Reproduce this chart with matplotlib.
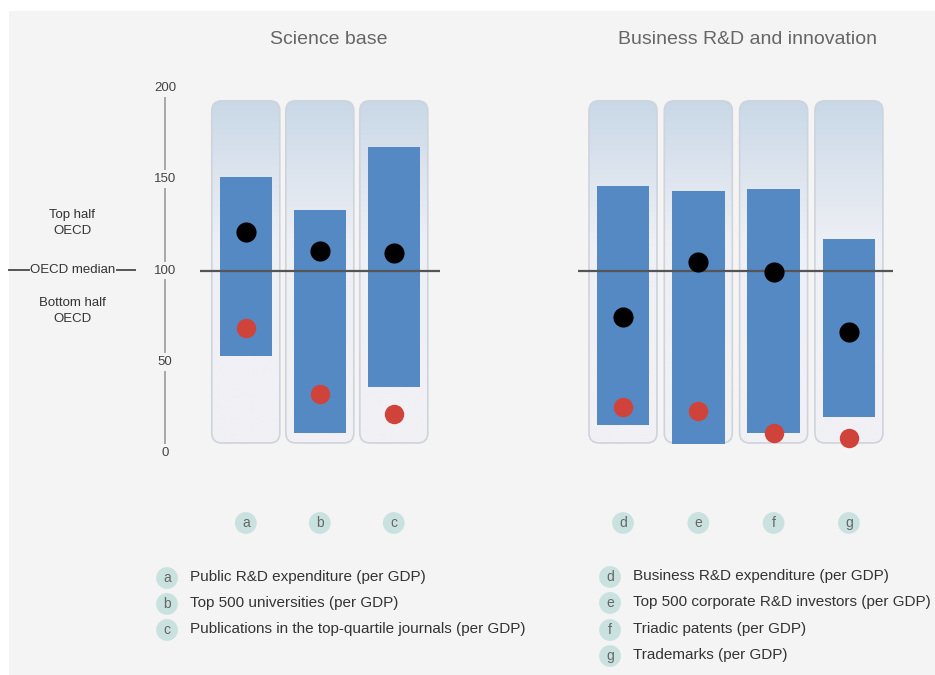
import matplotlib
matplotlib.use("Agg")
import matplotlib.pyplot as plt
import numpy as np
from matplotlib.patches import FancyBboxPatch, Rectangle
from matplotlib.colors import LinearSegmentedColormap
import matplotlib.transforms as mtransforms

plt.rcParams['font.family'] = ['Liberation Sans', 'DejaVu Sans']

# ---- data -------------------------------------------------------------
science_keys = ['a', 'b', 'c']
science_labels = ['Public R&D expenditure (per GDP)',
                  'Top 500 universities (per GDP)',
                  'Publications in the top-quartile journals (per GDP)']
science_high = [151.5, 133.0, 167.5]
science_low = [53.0, 11.0, 36.0]
science_country = [121.0, 110.5, 109.5]
science_other = [68.5, 32.5, 21.5]

business_keys = ['d', 'e', 'f', 'g']
business_labels = ['Business R&D expenditure (per GDP)',
                   'Top 500 corporate R&D investors (per GDP)',
                   'Triadic patents (per GDP)',
                   'Trademarks (per GDP)']
business_high = [146.5, 143.5, 144.5, 117.5]
business_low = [15.5, 5.0, 11.0, 19.5]
business_country = [74.5, 104.5, 99.0, 66.5]
business_other = [25.0, 23.0, 11.0, 8.0]

scale_ticks = [0, 50, 100, 150, 200]
median_value = 100
frame_low, frame_high = 5.5, 193.0

# ---- layout -------------------------------------------------------------
W, H = 935, 675
DPI = 100
fig = plt.figure(figsize=(W / DPI, H / DPI), dpi=DPI, facecolor='white')

# grey panel background
fig.patches.append(Rectangle((9 / W, 0), 1 - 9 / W, 1 - 11 / H,
                             transform=fig.transFigure, facecolor='#f4f4f4',
                             edgecolor='none', zorder=-5))

YMIN, YMAX = -10, 205
PX_PER_UNIT = 1.825
Y0_PX = 453.0


def ypx(v):
    return Y0_PX - PX_PER_UNIT * v


def make_axes(x0_px, x1_px):
    top = ypx(YMAX)
    bot = ypx(YMIN)
    ax = fig.add_axes([x0_px / W, 1 - bot / H, (x1_px - x0_px) / W, (bot - top) / H])
    ax.set_ylim(YMIN, YMAX)
    ax.axis('off')
    ax.patch.set_alpha(0)
    return ax


grad_cmap = LinearSegmentedColormap.from_list(
    'frame', [(0.0, '#f0f0f5'), (0.4, '#eef0f5'), (0.72, '#dce4ee'), (1.0, '#c9d8e7')])

BAR_COLOR = '#5589c4'
RED = '#d0433a'
BADGE = '#c9e2df'


def draw_panel(ax, keys, high, low, country, other, first_px, step_px, left_px, right_px,
               title, title_px):
    xlim = ((left_px - first_px) / step_px, (right_px - first_px) / step_px)
    frame_w = 68.0 / step_px
    bar_w = 52.5 / step_px
    aspect = step_px / PX_PER_UNIT
    xs = np.arange(len(keys))
    levels = np.linspace(frame_low, frame_high, 256)
    grad = np.clip((levels - 60) / (frame_high - 60), 0, 1).reshape(-1, 1)
    for x in xs:
        box = FancyBboxPatch((x - frame_w / 2, frame_low), frame_w, frame_high - frame_low,
                             boxstyle='round,pad=0,rounding_size=%f' % (10.0 / step_px),
                             mutation_aspect=aspect, facecolor='none',
                             edgecolor='#cfd3db', linewidth=1.2, zorder=3)
        ax.add_patch(box)
        im = ax.imshow(grad, extent=(x - frame_w / 2, x + frame_w / 2, frame_low, frame_high),
                       origin='lower', cmap=grad_cmap, vmin=0, vmax=1, aspect='auto', zorder=1,
                       interpolation='bilinear')
        im.set_clip_path(box)
    ax.set_xlim(*xlim)
    ax.set_ylim(YMIN, YMAX)
    ax.bar(xs, np.array(high) - np.array(low), bottom=low, width=bar_w,
           color=BAR_COLOR, zorder=4)
    ax.axhline(median_value, color='#555555', lw=1.6, zorder=5)
    ax.scatter(xs, country, s=14.5 ** 2, color='black', zorder=6, linewidths=0)
    ax.scatter(xs, other, s=14 ** 2, color=RED, zorder=6, linewidths=0, clip_on=False)

    # column badges below the chart
    trans = mtransforms.blended_transform_factory(ax.transData, fig.transFigure)
    for x, k in zip(xs, keys):
        ax.text(x, 1 - 523 / H, k, transform=trans, ha='center', va='center',
                fontsize=10, color='#666666',
                bbox=dict(boxstyle='circle,pad=0.28', fc=BADGE, ec='none'))
    fig.text(title_px / W, 1 - 40 / H, title, ha='center', va='center',
             fontsize=14, color='#666666')


ax_l = make_axes(200, 440)
draw_panel(ax_l, science_keys, science_high, science_low, science_country, science_other,
           245.8, 74.0, 200, 440, 'Science base', 329)
ax_r = make_axes(578, 893)
draw_panel(ax_r, business_keys, business_high, business_low, business_country, business_other,
           623.0, 75.3, 578, 893, 'Business R&D and innovation', 748)

# ---- scale column ---------------------------------------------------------
ax_s = make_axes(150, 180)
ax_s.set_xlim(0, 1)
gap = 4.8
for v in scale_ticks:
    ax_s.text(0.5, v, str(v), ha='center', va='center', fontsize=9.5, color='#444444')
for lo, hi in zip(scale_ticks[:-1], scale_ticks[1:]):
    ax_s.plot([0.5, 0.5], [lo + gap, hi - gap], color='#9a9a9a', lw=1.2,
              solid_capstyle='butt')

# side annotations
side_kw = dict(ha='center', va='center', fontsize=9.5, color='#333333', linespacing=1.4)
fig.text(72 / W, 1 - 223 / H, 'Top half\nOECD', **side_kw)
fig.text(73 / W, 1 - 270 / H, 'OECD median', **side_kw)
fig.text(72 / W, 1 - 311 / H, 'Bottom half\nOECD', **side_kw)
for x0, x1 in [(9, 29), (117, 135)]:
    fig.add_artist(plt.Line2D([x0 / W, x1 / W], [1 - 270 / H, 1 - 270 / H],
                              color='#555555', lw=1.4, transform=fig.transFigure))


# ---- legends --------------------------------------------------------------
def legend_block(keys, labels, badge_x, text_x, y_list):
    for k, lab, y in zip(keys, labels, y_list):
        fig.text(badge_x / W, 1 - y / H, k, ha='center', va='center', fontsize=10,
                 color='#666666', bbox=dict(boxstyle='circle,pad=0.28', fc=BADGE, ec='none'))
        fig.text(text_x / W, 1 - (y - 1) / H, lab, ha='left', va='center',
                 fontsize=11, color='#333333')


legend_block(science_keys, science_labels, 167, 190, [578, 604, 630])
legend_block(business_keys, business_labels, 610, 633, [577, 603, 630, 656])

fig.savefig('out.png', dpi=DPI, facecolor=fig.get_facecolor())
